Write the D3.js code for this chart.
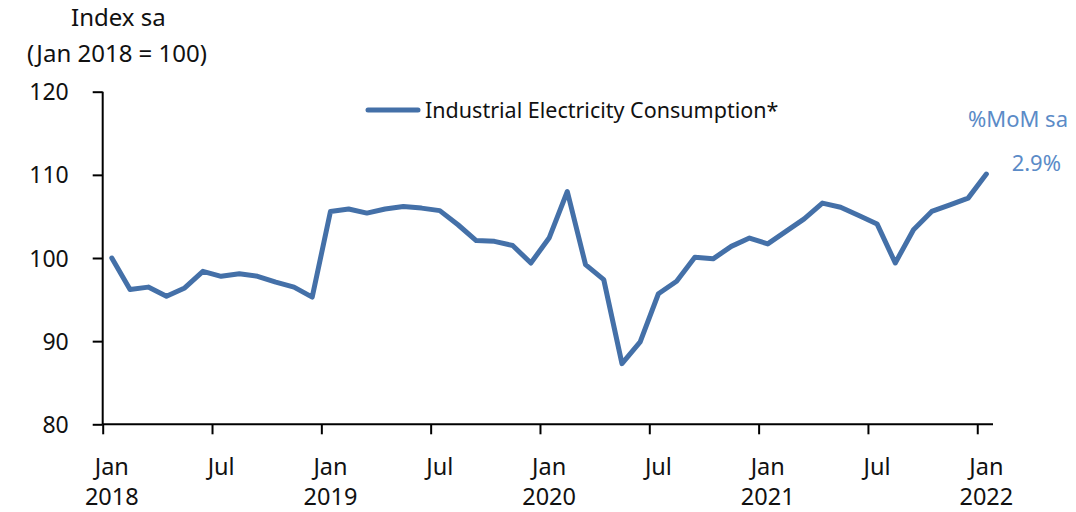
<!DOCTYPE html>
<html>
<head>
<meta charset="utf-8">
<script src="https://cdn.jsdelivr.net/npm/d3@7"></script>
<style>
  body { margin: 0; background: #fff; }
  text { font-family: 'Noto Sans', sans-serif; fill: #111; }
</style>
</head>
<body>
<svg id="chart" width="1076" height="512"></svg>
<script>
// monthly index, Jan 2018 .. Jan 2022
const months = d3.range(49).map((i) => new Date(2018, i, 1));
const consumption = [
  100.0, 96.2, 96.5, 95.4, 96.4, 98.4, 97.8, 98.1, 97.8, 97.1, 96.5, 95.3,
  105.6, 105.9, 105.4, 105.9, 106.2, 106.0, 105.7, 104.0, 102.1, 102.0, 101.5, 99.4,
  102.4, 108.0, 99.2, 97.4, 87.3, 89.9, 95.7, 97.2, 100.1, 99.9, 101.4, 102.4,
  101.7, 103.2, 104.7, 106.6, 106.1, 105.1, 104.1, 99.4, 103.4, 105.6, 106.4, 107.2,
  110.1,
];
const yTicks = [80, 90, 100, 110, 120];
const xTickMonths = [0, 6, 12, 18, 24, 30, 36, 42, 48];
const xTickLabels = [
  ['Jan', '2018'], ['Jul', ''], ['Jan', '2019'], ['Jul', ''], ['Jan', '2020'],
  ['Jul', ''], ['Jan', '2021'], ['Jul', ''], ['Jan', '2022'],
];
const seriesName = 'Industrial Electricity Consumption*';
const momChange = '2.9%';

const lineColor = '#4470a8';
const noteColor = '#5b8bc7';

const svg = d3.select('#chart');

const x = d3.scaleLinear().domain([0, 49]).range([102.7, 102.7 + 49 * 18.22]);
const y = d3.scaleLinear().domain([80, 120]).range([424.3, 91.7]);

// y axis
const yAxis = svg.append('g')
  .attr('transform', `translate(${x(0)},0)`)
  .call(d3.axisLeft(y).tickValues(yTicks).tickSize(10).tickPadding(24));
yAxis.select('.domain').attr('stroke', '#000').attr('stroke-width', 2)
  .attr('d', `M0,${y(120)}V${y(80)}`);
yAxis.selectAll('.tick line').attr('stroke', '#000').attr('stroke-width', 2);
yAxis.selectAll('.tick text')
  .style('font-family', "'Noto Sans', sans-serif")
  .style('font-size', '23px')
  .attr('text-anchor', 'end')
  .attr('fill', '#111')
  .attr('dy', '0.35em');

// x axis
const xAxis = svg.append('g')
  .attr('transform', `translate(0,${y(80)})`)
  .call(d3.axisBottom(x).tickValues(xTickMonths).tickSize(10).tickFormat(''));
xAxis.select('.domain').attr('stroke', '#000').attr('stroke-width', 2)
  .attr('d', `M${x(0)},0H993`);
xAxis.selectAll('.tick line').attr('stroke', '#000').attr('stroke-width', 2);

const xLabels = svg.append('g').selectAll('g')
  .data(xTickMonths)
  .join('g')
  .attr('transform', (d) => `translate(${x(d + 0.5)},0)`);
xLabels.append('text')
  .attr('y', 475)
  .attr('text-anchor', 'middle')
  .style('font-size', '23.5px')
  .text((d, i) => xTickLabels[i][0]);
xLabels.append('text')
  .attr('y', 505)
  .attr('text-anchor', 'middle')
  .style('font-size', '23.5px')
  .text((d, i) => xTickLabels[i][1]);

// axis title
svg.append('text').attr('x', 71).attr('y', 26).style('font-size', '24px').text('Index sa');
svg.append('text').attr('x', 27).attr('y', 62).style('font-size', '24px').text('(Jan 2018 = 100)');

// series line
const line = d3.line()
  .x((d, i) => x(i + 0.5))
  .y((d) => y(d));

svg.append('path')
  .datum(consumption)
  .attr('d', line)
  .attr('fill', 'none')
  .attr('stroke', lineColor)
  .attr('stroke-width', 5)
  .attr('stroke-linejoin', 'round')
  .attr('stroke-linecap', 'round');

// legend
svg.append('line')
  .attr('x1', 368).attr('x2', 418)
  .attr('y1', 110).attr('y2', 110)
  .attr('stroke', lineColor)
  .attr('stroke-width', 5)
  .attr('stroke-linecap', 'round');
svg.append('text')
  .attr('x', 425).attr('y', 118)
  .style('font-size', '21.5px')
  .text(seriesName);

// month-on-month note
svg.append('text')
  .attr('x', 1068).attr('y', 127)
  .attr('text-anchor', 'end')
  .style('font-size', '22px')
  .style('fill', noteColor)
  .text('%MoM sa');
svg.append('text')
  .attr('x', 1061).attr('y', 171)
  .attr('text-anchor', 'end')
  .style('font-size', '22px')
  .style('fill', noteColor)
  .text(momChange);
</script>
</body>
</html>
